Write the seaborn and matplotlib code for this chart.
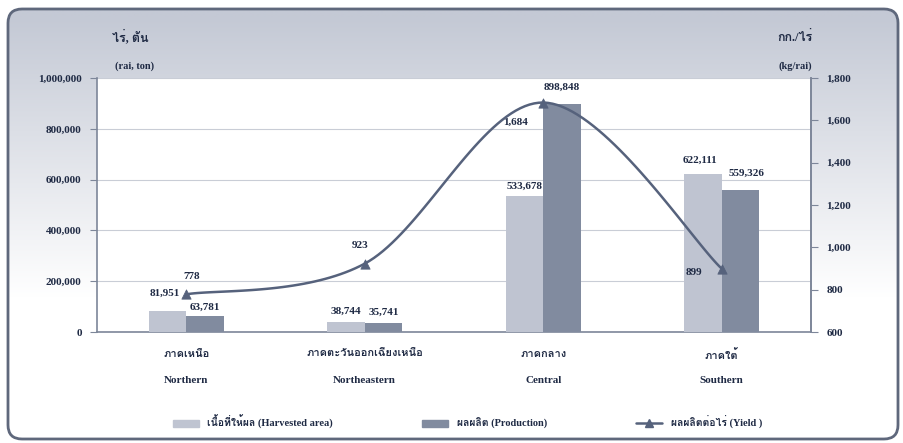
import numpy as np
import pandas as pd
import matplotlib
matplotlib.use("Agg")
import matplotlib.pyplot as plt
import seaborn as sns
from matplotlib import font_manager, ft2font
from matplotlib.patches import FancyBboxPatch, Patch
from matplotlib.lines import Line2D

# data
regions_th = ["ภาคเหนือ", "ภาคตะวันออกเฉียงเหนือ", "ภาคกลาง", "ภาคใต้"]
regions_en = ["Northern", "Northeastern", "Central", "Southern"]
harvested = [81951, 38744, 533678, 622111]
production = [63781, 35741, 898848, 559326]
yield_kg = [778, 923, 1684, 899]
left_ticks = [0, 200000, 400000, 600000, 800000, 1000000]
right_ticks = [600, 800, 1000, 1200, 1400, 1600, 1800]
series_names = ["เนื้อที่ให้ผล (Harvested area)", "ผลผลิต (Production)"]
yield_name = "ผลผลิตต่อไร่ (Yield )"

# label offsets in points (dx, dy)
harv_off = [(-2, 13), (0, 8), (0, 7), (-2, 10)]
prod_off = [(0, 6), (0, 8), (0, 12), (4, 12)]
yield_off = [(4, 13), (-3, 13), (-20, -14), (-20, -3)]

# find a font with Thai glyphs
def has_thai(path):
    try:
        return 0x0E01 in ft2font.FT2Font(path).get_charmap()
    except Exception:
        return False

thai_fonts = []
for f in font_manager.fontManager.ttflist:
    if f.name not in thai_fonts and has_thai(f.fname):
        thai_fonts.append(f.name)

sns.set_style("white")
plt.rcParams["font.family"] = ["Liberation Serif"] + thai_fonts[:1] + ["DejaVu Sans"]
plt.rcParams["font.weight"] = "bold"

txt = "#1f2a44"
light = "#bfc4d1"
dark = "#818b9f"
line_c = "#56627c"
fs = 8

fig = plt.figure(figsize=(9.04, 4.43), dpi=100)

# background panel with gradient
bg = fig.add_axes([0, 0, 1, 1], zorder=-5)
bg.set_axis_off()
bg.set_xlim(0, 904)
bg.set_ylim(443, 0)
grad = np.linspace(0, 1, 256).reshape(-1, 1)
top = np.array([196, 201, 213]) / 255
vals = np.clip((grad - 0.02) / 0.65, 0, 1)
img = top + (1 - top) * vals
img = np.repeat(img[:, None, :], 2, axis=1)
im = bg.imshow(img, extent=[7, 899, 440, 8], aspect="auto")
panel = FancyBboxPatch((8, 9), 890, 430, boxstyle="round,pad=0,rounding_size=14",
                       fc="none", ec="#5f687c", lw=2)
bg.add_patch(panel)
im.set_clip_path(panel)

ax = fig.add_axes([97 / 904, 1 - 332 / 443, 714 / 904, 254 / 443])
df = pd.DataFrame({
    "region": regions_en * 2,
    "value": harvested + production,
    "series": [series_names[0]] * 4 + [series_names[1]] * 4,
})
sns.barplot(data=df, x="region", y="value", hue="series", palette=[light, dark],
            width=0.42, saturation=1, linewidth=0, ax=ax, legend=False, zorder=3)
ax.set_facecolor("white")
ax.set_xlim(-0.5, 3.5)
ax.set_ylim(0, 1000000)
ax.set_yticks(left_ticks)
ax.set_yticklabels([f"{v:,}" for v in left_ticks], fontsize=fs, color=txt)
ax.yaxis.grid(True, color="#c9cdd6", lw=0.8)
ax.set_axisbelow(True)
ax.set_xlabel("")
ax.set_ylabel("")
ax.set_xticks([0.5, 1.5, 2.5])
ax.set_xticklabels([])
ax.tick_params(axis="x", length=5, color="#7d8699", direction="out")
ax.tick_params(axis="y", length=5, color="#7d8699", direction="out", pad=6)
for s in ["left", "bottom", "right"]:
    ax.spines[s].set_color("#7d8699")
    ax.spines[s].set_linewidth(1.2)
ax.spines["top"].set_visible(False)

for i, c in enumerate(ax.containers):
    vals_ = harvested if i == 0 else production
    offs = harv_off if i == 0 else prod_off
    for bar, v, (dx, dy) in zip(c, vals_, offs):
        ax.annotate(f"{v:,}", (bar.get_x() + bar.get_width() / 2, bar.get_height()),
                    xytext=(dx, dy), textcoords="offset points", ha="center",
                    va="center", fontsize=fs, color=txt)

for i in range(4):
    ax.text(i, -0.09, regions_th[i], transform=ax.get_xaxis_transform(),
            ha="center", va="center", fontsize=fs, color=txt)
    ax.text(i, -0.19, regions_en[i], transform=ax.get_xaxis_transform(),
            ha="center", va="center", fontsize=fs, color=txt)

# yield line, smoothed (Catmull-Rom through the points)
ax2 = ax.twinx()
ax2.set_ylim(600, 1800)
ax2.set_yticks(right_ticks)
ax2.set_yticklabels([f"{v:,}" for v in right_ticks], fontsize=fs, color=txt)
ax2.tick_params(axis="y", length=5, color="#7d8699", direction="out", pad=6)
for s in ["left", "bottom", "top"]:
    ax2.spines[s].set_visible(False)
ax2.spines["right"].set_color("#7d8699")
ax2.spines["right"].set_linewidth(1.2)

xs = np.arange(4, dtype=float)
ys = np.array(yield_kg, dtype=float)
px = np.concatenate([[xs[0]], xs, [xs[-1]]])
py = np.concatenate([[ys[0]], ys, [ys[-1]]])
cx, cy = [], []
t = np.linspace(0, 1, 40)
for k in range(1, len(px) - 2):
    for arr, out in ((px, cx), (py, cy)):
        p0, p1, p2, p3 = arr[k - 1], arr[k], arr[k + 1], arr[k + 2]
        out.extend(0.5 * ((2 * p1) + (-p0 + p2) * t + (2 * p0 - 5 * p1 + 4 * p2 - p3) * t ** 2
                          + (-p0 + 3 * p1 - 3 * p2 + p3) * t ** 3))
ax2.plot(cx, cy, color=line_c, lw=1.8, zorder=5)
sns.scatterplot(x=xs, y=ys, marker="^", s=45, color=line_c, edgecolor=line_c,
                ax=ax2, zorder=6)
for x, v, (dx, dy) in zip(xs, yield_kg, yield_off):
    ax2.annotate(f"{v:,}", (x, v), xytext=(dx, dy), textcoords="offset points",
                 ha="center", va="center", fontsize=fs, color=txt)

# axis titles
fig.text(130 / 904, 1 - 37 / 443, "ไร่, ตัน", ha="center", va="center", fontsize=9, color=txt)
fig.text(135 / 904, 1 - 66 / 443, "(rai, ton)", ha="center", va="center", fontsize=7.5, color=txt)
fig.text(795 / 904, 1 - 37 / 443, "กก./ไร่", ha="center", va="center", fontsize=9, color=txt)
fig.text(795 / 904, 1 - 66 / 443, "(kg/rai)", ha="center", va="center", fontsize=7.5, color=txt)

handles = [Patch(color=light), Patch(color=dark),
           Line2D([], [], color=line_c, lw=1.8, marker="^", ms=6)]
fig.legend(handles, series_names + [yield_name], loc="center", ncol=3,
           bbox_to_anchor=(0.517, 1 - 422 / 443), frameon=False, fontsize=7.5,
           handlelength=2.5, columnspacing=8.6, labelcolor=txt)

fig.savefig("out.png", dpi=100)
